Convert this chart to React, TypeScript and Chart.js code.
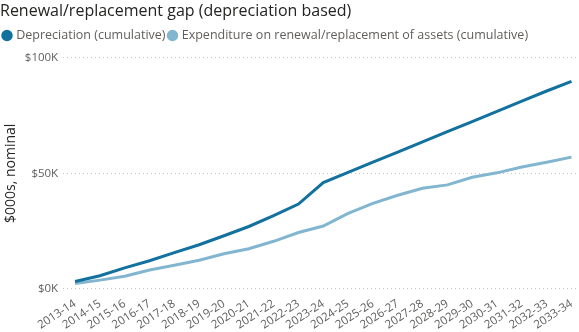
import React, { useEffect, useRef } from "react";
import { Chart, registerables } from "chart.js";

Chart.register(...registerables);

const categories = [
  "2013-14", "2014-15", "2015-16", "2016-17", "2017-18", "2018-19", "2019-20",
  "2020-21", "2021-22", "2022-23", "2023-24", "2024-25", "2025-26", "2026-27",
  "2027-28", "2028-29", "2029-30", "2030-31", "2031-32", "2032-33", "2033-34",
];

const depreciation = [
  3200, 5700, 9100, 12200, 15700, 19100, 23000, 27000, 31700, 36700, 46000,
  50400, 54800, 59200, 63600, 68000, 72400, 76800, 81200, 85600, 89800,
];

const expenditure = [
  2300, 3800, 5500, 8200, 10200, 12400, 15200, 17400, 20600, 24400, 27200,
  32700, 37000, 40500, 43500, 45000, 48300, 50200, 52700, 54800, 57000,
];

const yTicks = [0, 50000, 100000];

const FONT = "'Segoe UI', 'Open Sans', sans-serif";

const legendGap = {
  id: "legendGap",
  beforeUpdate(chart: any) {
    const lg = chart.legend;
    if (lg && !lg.__patched) {
      const fit = lg.fit;
      lg.fit = function (this: any) {
        fit.call(this);
        this.height += 6;
      };
      lg.__patched = true;
    }
  },
};

export default function App() {
  const ref = useRef<HTMLCanvasElement | null>(null);

  useEffect(() => {
    if (!ref.current) return;
    const chart = new Chart(ref.current, {
      type: "line",
      data: {
        datasets: [
          {
            label: "Depreciation (cumulative)",
            data: depreciation.map((v, i) => ({ x: i, y: v })),
            borderColor: "#12719E",
            backgroundColor: "#12719E",
            borderWidth: 3,
            pointRadius: 0,
            tension: 0,
          },
          {
            label: "Expenditure on renewal/replacement of assets (cumulative)",
            data: expenditure.map((v, i) => ({ x: i, y: v })),
            borderColor: "#82B6D0",
            backgroundColor: "#82B6D0",
            borderWidth: 3,
            pointRadius: 0,
            tension: 0,
          },
        ],
      },
      plugins: [legendGap],
      options: {
        animation: false,
        responsive: false,
        maintainAspectRatio: false,
        layout: { padding: { left: 0, right: 0, top: 0, bottom: 0 } },
        plugins: {
          tooltip: { enabled: false },
          title: {
            display: true,
            text: "Renewal/replacement gap (depreciation based)",
            align: "start",
            color: "#252423",
            font: { family: FONT, size: 16, weight: "normal" },
            padding: { top: 2, bottom: 4 },
          },
          legend: {
            display: true,
            align: "start",
            labels: {
              usePointStyle: true,
              pointStyle: "circle",
              boxWidth: 6,
              boxHeight: 6,
              padding: 4,
              color: "#605E5C",
              font: { family: FONT, size: 12.5 },
            },
          },
        },
        scales: {
          x: {
            type: "linear",
            min: -0.48,
            max: 20.3,
            grid: { display: false },
            border: { display: false },
            ticks: {
              stepSize: 1,
              includeBounds: false,
              autoSkip: false,
              maxRotation: 33,
              minRotation: 33,
              color: "#605E5C",
              font: { family: FONT, size: 11.5 },
              padding: 0,
              callback: (v: any) =>
                Number.isInteger(v) && categories[v] ? categories[v] : "",
            },
          },
          y: {
            min: 0,
            max: 100000,
            afterBuildTicks: (axis: any) => {
              axis.ticks = yTicks.map((v) => ({ value: v }));
            },
            grid: {
              color: "#C8C6C4",
              lineWidth: 1,
              drawTicks: false,
            },
            border: { display: false, dash: [1, 3] },
            title: {
              display: true,
              text: "$000s, nominal",
              color: "#252423",
              font: { family: FONT, size: 14 },
              padding: { top: 3, bottom: 0 },
            },
            ticks: {
              color: "#605E5C",
              font: { family: FONT, size: 11.5 },
              padding: 5,
              callback: (v: any) => "$" + Number(v) / 1000 + "K",
            },
          },
        },
      },
    });
    return () => chart.destroy();
  }, []);

  return (
    <div style={{ position: "fixed", left: 0, top: 0, width: 579, height: 332, background: "#fff" }}>
      <canvas ref={ref} width={579} height={332} style={{ display: "block" }} />
    </div>
  );
}
